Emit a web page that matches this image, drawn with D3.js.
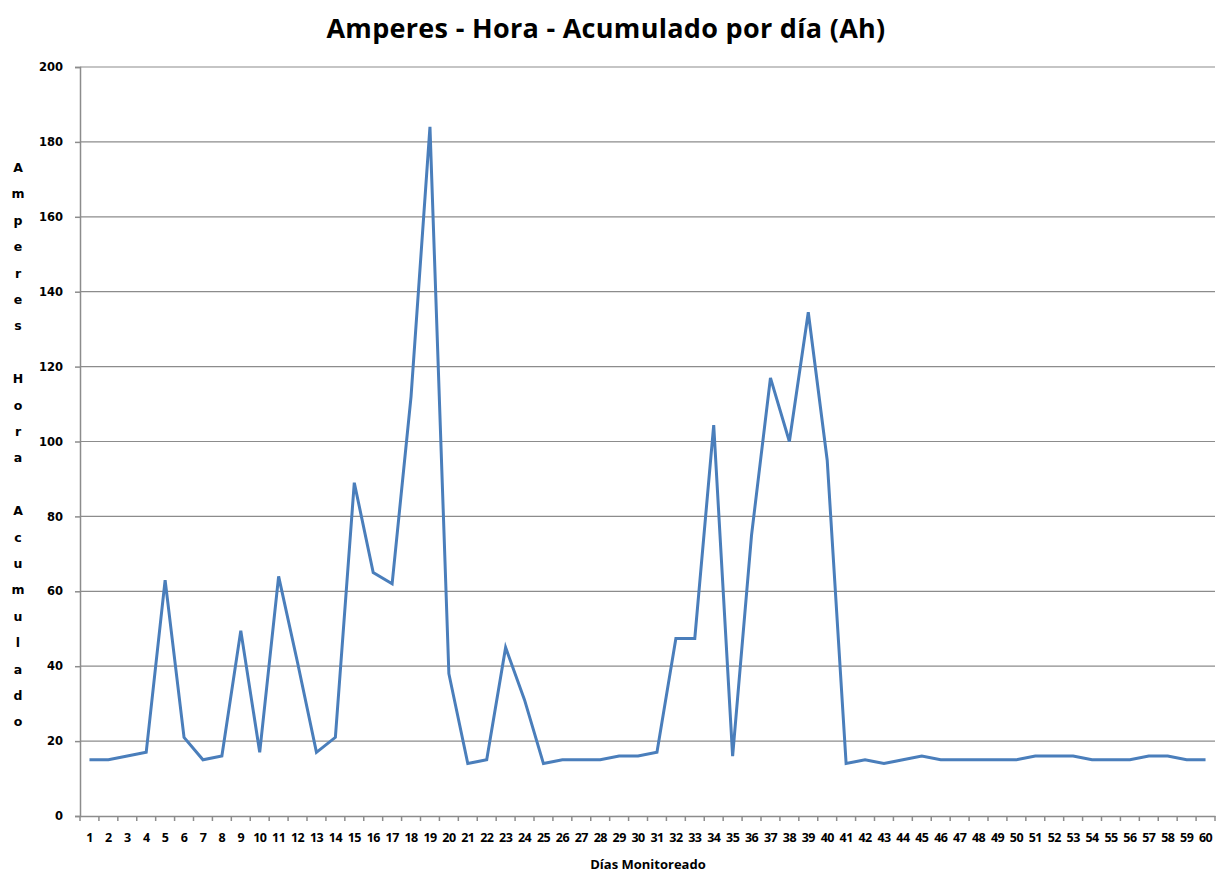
<!DOCTYPE html>
<html>
<head>
<meta charset="utf-8">
<script src="https://cdn.jsdelivr.net/npm/d3@7"></script>
<style>
  body { margin: 0; background: #fff; }
  svg { display: block; }
  .tick text { font-family: "Open Sans", sans-serif; font-weight: bold; fill: #000; }
</style>
</head>
<body>
<script>
// days monitored and accumulated Ah per day
const days = d3.range(1, 61);
const ampHours = [
  15, 15, 16, 17, 63, 21, 15, 16, 49.5, 17,
  64, 41, 17, 21, 89, 65, 62, 112, 184, 38,
  14, 15, 45, 31, 14, 15, 15, 15, 16, 16,
  17, 47.4, 47.4, 104.4, 16, 75, 117, 100, 134.5, 95,
  14, 15, 14, 15, 16, 15, 15, 15, 15, 15,
  16, 16, 16, 15, 15, 15, 16, 16, 15, 15
];
const yTicks = [0, 20, 40, 60, 80, 100, 120, 140, 160, 180, 200];
const yTitle = "Amperes Hora Acumulado";

const width = 1225, height = 875;
const margin = {top: 67, right: 10, bottom: 59, left: 80};

const svg = d3.select("body").append("svg")
    .attr("width", width)
    .attr("height", height);

const x = d3.scaleBand()
    .domain(days)
    .range([margin.left, width - margin.right]);

const y = d3.scaleLinear()
    .domain([0, 200])
    .range([height - margin.bottom, margin.top]);

//gridlines
svg.append("g")
    .selectAll("line")
    .data(yTicks.slice(1))
    .join("line")
    .attr("x1", margin.left)
    .attr("x2", width - margin.right)
    .attr("y1", d => y(d))
    .attr("y2", d => y(d))
    .attr("stroke", "#8c8c8c")
    .attr("stroke-width", 1.2);

//y axis
const gy = svg.append("g")
    .attr("transform", `translate(${margin.left},0)`)
    .call(d3.axisLeft(y).tickValues(yTicks).tickSize(5).tickPadding(12));
gy.selectAll("line, path").attr("stroke", "#8c8c8c").attr("stroke-width", 1.5);
gy.selectAll("text").style("font-family", "Verdana, 'DejaVu Sans', sans-serif")
    .style("font-size", "11.5px").style("font-weight", "bold");

//x axis (ticks at category boundaries)
const gx = svg.append("g")
    .attr("transform", `translate(0,${height - margin.bottom})`)
    .call(d3.axisBottom(x).tickSize(0).tickPadding(17));
gx.select("path").attr("stroke", "#8c8c8c").attr("stroke-width", 1.5);
gx.selectAll("text").style("font-size", "12.5px").style("letter-spacing", "-0.6px");
gx.append("g")
    .selectAll("line")
    .data(d3.range(0, days.length + 1))
    .join("line")
    .attr("x1", i => margin.left + i * x.step())
    .attr("x2", i => margin.left + i * x.step())
    .attr("y1", 0)
    .attr("y2", 5)
    .attr("stroke", "#8c8c8c")
    .attr("stroke-width", 1.5);

//series line
const line = d3.line()
    .x((d, i) => x(days[i]) + x.bandwidth() / 2)
    .y(d => y(d));

svg.append("path")
    .datum(ampHours)
    .attr("d", line)
    .attr("fill", "none")
    .attr("stroke", "#4a7ebb")
    .attr("stroke-width", 3)
    .attr("stroke-linejoin", "miter");

//title
svg.append("text")
    .attr("x", 606)
    .attr("y", 38)
    .attr("text-anchor", "middle")
    .style("font-family", "'Open Sans', sans-serif")
    .style("font-weight", "bold")
    .style("font-size", "27px")
    .style("letter-spacing", "0.3px")
    .text("Amperes - Hora - Acumulado por día (Ah)");

//x axis title
svg.append("text")
    .attr("x", 648)
    .attr("y", 869)
    .attr("text-anchor", "middle")
    .style("font-family", "'Open Sans', sans-serif")
    .style("font-weight", "bold")
    .style("font-size", "13px")
    .text("Días Monitoreado");

//y axis title, one letter per line
svg.append("text")
    .style("font-family", "Verdana, 'DejaVu Sans', sans-serif")
    .style("font-weight", "bold")
    .style("font-size", "12.5px")
    .attr("text-anchor", "middle")
    .selectAll("tspan")
    .data(yTitle.split(""))
    .join("tspan")
    .attr("x", 18)
    .attr("y", (d, i) => 172 + i * 26.4)
    .text(d => d === " " ? "\u00a0" : d);
</script>
</body>
</html>
